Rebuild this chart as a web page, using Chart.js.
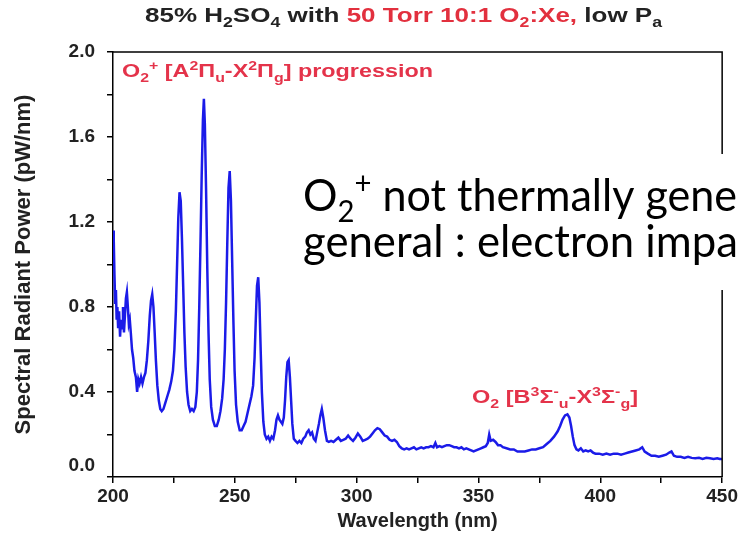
<!DOCTYPE html>
<html>
<head>
<meta charset="utf-8">
<script src="https://cdn.jsdelivr.net/npm/chart.js@4/dist/chart.umd.min.js"></script>
<style>
  html, body { margin: 0; padding: 0; background: #ffffff; }
  #wrap { width: 740px; height: 534px; }
</style>
</head>
<body>
<div id="wrap"><canvas id="c" width="740" height="534"></canvas></div>
<script>
// ---------- data ----------
const wavelength = [
  200.0,200.3,200.6,200.9,201.2,201.5,201.8,202.1,202.5,202.9,203.3,203.7,204.1,204.5,204.9,205.3,205.7,206.1,206.5,206.9,
  207.3,207.8,208.3,208.8,209.4,209.9,210.4,210.9,211.5,212.1,212.7,213.3,213.9,214.5,215.1,215.6,216.1,216.6,217.1,217.6,
  218.2,218.8,219.4,220.0,220.7,221.5,222.3,223.1,223.9,224.6,225.2,225.8,226.3,226.8,227.3,227.8,228.3,228.8,229.3,229.8,
  230.4,231.0,231.7,232.4,233.1,233.8,234.4,234.9,235.4,235.9,236.4,236.9,237.3,237.7,238.2,238.7,239.2,239.7,240.3,241.0,
  241.8,242.6,243.4,244.1,244.8,245.4,245.9,246.4,246.9,247.4,247.9,248.4,248.9,249.4,249.9,250.5,251.2,252.0,252.8,253.6,
  254.4,255.2,256.0,256.8,257.5,258.1,258.6,259.1,259.6,260.1,260.6,261.1,261.7,262.3,263.0,263.7,264.4,265.1,265.8,266.5,
  267.1,267.7,268.3,268.9,269.5,270.1,270.6,271.1,271.6,272.1,272.6,273.1,273.6,274.2,274.9,275.7,276.5,277.3,278.1,278.9,
  279.6,280.3,281.0,281.7,282.4,283.1,283.8,284.5,285.1,285.7,286.3,287.0,287.8,288.6,289.5,290.5,291.5,292.5,293.5,294.5,
  295.5,296.5,297.5,298.5,299.5,300.5,301.5,302.5,303.5,304.5,305.5,306.5,307.5,308.5,309.5,310.5,311.5,312.5,313.5,314.5,
  315.5,316.5,317.5,318.5,319.5,320.5,321.5,322.5,323.5,324.5,325.5,326.5,327.5,328.5,329.5,330.5,331.5,332.3,333.0,334.0,
  335.0,336.0,337.0,338.0,339.0,340.0,341.0,342.0,343.0,344.0,345.0,346.0,347.0,348.0,349.0,350.0,351.0,352.0,353.0,353.8,
  354.4,355.0,356.0,357.0,358.0,359.0,360.0,361.5,363.0,364.5,366.0,367.5,369.0,370.5,372.0,373.5,375.0,376.5,378.0,379.5,
  381.0,382.5,383.5,384.5,385.5,386.5,387.3,388.0,388.7,389.4,390.2,391.0,392.0,393.0,394.0,395.0,396.0,397.0,398.0,399.5,
  401.0,402.5,404.0,405.5,407.0,408.5,410.0,411.5,413.0,414.5,416.0,417.2,418.2,419.5,421.0,422.5,424.0,425.5,427.0,428.3,
  429.2,430.2,431.5,433.0,434.5,436.0,437.5,439.0,440.5,442.0,443.5,445.0,446.5,448.0,449.0,450.0
];
const power = [
  1.16,1.12,0.95,0.82,0.88,0.74,0.80,0.70,0.78,0.66,0.74,0.70,0.80,0.68,0.76,0.84,0.87,0.80,0.72,0.74,
  0.68,0.60,0.56,0.50,0.47,0.40,0.46,0.44,0.47,0.44,0.47,0.49,0.55,0.64,0.76,0.83,0.86,0.80,0.68,0.55,
  0.43,0.36,0.32,0.31,0.32,0.35,0.38,0.41,0.45,0.50,0.60,0.78,1.00,1.22,1.34,1.30,1.12,0.90,0.68,0.52,
  0.40,0.34,0.31,0.32,0.31,0.33,0.40,0.55,0.80,1.10,1.42,1.68,1.78,1.66,1.35,0.98,0.68,0.46,0.33,0.27,
  0.24,0.24,0.27,0.31,0.37,0.46,0.60,0.82,1.10,1.36,1.44,1.30,1.02,0.74,0.50,0.34,0.26,0.22,0.22,0.24,
  0.26,0.30,0.34,0.38,0.43,0.56,0.74,0.90,0.94,0.82,0.60,0.40,0.26,0.20,0.18,0.19,0.17,0.19,0.18,0.22,
  0.27,0.29,0.27,0.26,0.25,0.28,0.36,0.47,0.54,0.55,0.47,0.36,0.25,0.18,0.17,0.16,0.17,0.16,0.18,0.19,
  0.21,0.22,0.20,0.21,0.18,0.17,0.21,0.25,0.29,0.32,0.28,0.22,0.17,0.165,0.17,0.165,0.175,0.185,0.17,0.175,
  0.18,0.195,0.18,0.17,0.185,0.205,0.19,0.17,0.175,0.18,0.19,0.205,0.22,0.23,0.225,0.21,0.195,0.19,0.175,0.17,
  0.175,0.165,0.145,0.135,0.13,0.135,0.13,0.135,0.14,0.13,0.135,0.14,0.135,0.14,0.14,0.145,0.14,0.16,0.14,0.145,
  0.14,0.145,0.15,0.15,0.145,0.14,0.14,0.135,0.14,0.13,0.135,0.13,0.125,0.12,0.125,0.13,0.135,0.14,0.145,0.16,
  0.20,0.17,0.175,0.165,0.15,0.15,0.14,0.135,0.13,0.13,0.12,0.12,0.12,0.125,0.13,0.13,0.135,0.14,0.155,0.17,
  0.19,0.215,0.24,0.27,0.29,0.295,0.28,0.24,0.19,0.15,0.13,0.125,0.135,0.12,0.125,0.12,0.125,0.115,0.11,0.11,
  0.105,0.11,0.105,0.11,0.11,0.105,0.11,0.115,0.12,0.125,0.13,0.14,0.12,0.11,0.10,0.10,0.095,0.10,0.105,0.115,
  0.12,0.10,0.095,0.095,0.09,0.095,0.09,0.088,0.09,0.085,0.09,0.088,0.085,0.088,0.085,0.085
];
const xTicks = [200,225,250,275,300,325,350,375,400,425,450];
const xTickLabels = ['200','','250','','300','','350','','400','','450'];
const yTicks = [0,0.2,0.4,0.6,0.8,1.0,1.2,1.4,1.6,1.8,2.0];
const yTickLabels = ['0.0','','0.4','','0.8','','1.2','','1.6','','2.0'];

// ---------- texts ----------
const INK = '#222';
const TRED = '#e2303e';
const titleSegs = [
  {t:'85% H', c:INK}, {t:'2', c:INK, k:'sub'}, {t:'SO', c:INK}, {t:'4', c:INK, k:'sub'},
  {t:' with ', c:INK},
  {t:'50 Torr 10:1 O', c:TRED}, {t:'2', c:TRED, k:'sub'}, {t:':Xe,', c:TRED},
  {t:' low P', c:INK}, {t:'a', c:INK, k:'sub'}
];
const RED = '#e4334a';
const note1 = [
  {t:'O', c:RED}, {t:'2', c:RED, k:'sub'}, {t:'+', c:RED, k:'sup'}, {t:' [A', c:RED}, {t:'2', c:RED, k:'sup'},
  {t:'\u03A0', c:RED}, {t:'u', c:RED, k:'sub'}, {t:'-X', c:RED}, {t:'2', c:RED, k:'sup'}, {t:'\u03A0', c:RED},
  {t:'g', c:RED, k:'sub'}, {t:'] progression', c:RED}
];
const note2 = [
  {t:'O', c:RED}, {t:'2', c:RED, k:'sub'}, {t:' [B', c:RED}, {t:'3', c:RED, k:'sup'}, {t:'\u03A3', c:RED},
  {t:'-', c:RED, k:'sup'}, {t:'u', c:RED, k:'sub'}, {t:'-X', c:RED}, {t:'3', c:RED, k:'sup'}, {t:'\u03A3', c:RED},
  {t:'-', c:RED, k:'sup'}, {t:'g', c:RED, k:'sub'}, {t:']', c:RED}
];
const overlayLine1 = [
  {t:'O', c:'#000'}, {t:'2', c:'#000', k:'sub'}, {t:'+', c:'#000', k:'sup'}, {t:' not thermally gene', c:'#000'}
];
const overlayLine2 = [{t:'general : electron impa', c:'#000'}];

const SANS = '"Liberation Sans", Arial, Helvetica, sans-serif';
const BIG = '"Lato", "Open Sans", sans-serif';

function richWidth(ctx, segs, size, weight, family) {
  let w = 0;
  segs.forEach(s => {
    const fs = s.k ? size * 0.68 : size;
    ctx.font = `${weight} ${fs}px ${family}`;
    w += ctx.measureText(s.t).width;
  });
  return w;
}
// draws rich text between x0 and x1 (horizontally fitted), baseline y
function drawRichFit(ctx, segs, x0, x1, y, size, weight, family) {
  const total = richWidth(ctx, segs, size, weight, family);
  const sx = (x1 - x0) / total;
  ctx.save();
  ctx.translate(x0, y);
  ctx.scale(sx, 1);
  ctx.textBaseline = 'alphabetic';
  ctx.textAlign = 'left';
  let cx = 0;
  segs.forEach(s => {
    const fs = s.k ? size * 0.68 : size;
    ctx.font = `${weight} ${fs}px ${family}`;
    let dy = 0;
    if (s.k === 'sub') dy = size * 0.26;
    if (s.k === 'sup') dy = -size * 0.38;
    ctx.fillStyle = s.c;
    ctx.fillText(s.t, cx, dy);
    cx += ctx.measureText(s.t).width;
  });
  ctx.restore();
}

const decor = {
  id: 'decor',
  afterDatasetsDraw(chart) {
    const {ctx, chartArea: a} = chart;
    ctx.save();
    ctx.strokeStyle = '#000';
    ctx.lineWidth = 1.5;
    ctx.beginPath();
    ctx.moveTo(a.left, a.top);
    ctx.lineTo(a.right, a.top);
    ctx.lineTo(a.right, a.bottom);
    ctx.stroke();
    ctx.restore();
  },
  afterDraw(chart) {
    const ctx = chart.ctx;
    // title
    drawRichFit(ctx, titleSegs, 145, 662, 22, 21, 'bold', SANS);
    // annotations
    drawRichFit(ctx, note1, 122, 433, 77, 19, 'bold', SANS);
    drawRichFit(ctx, note2, 472, 638, 403, 19, 'bold', SANS);
    // white text box from the slide
    ctx.save();
    ctx.fillStyle = '#ffffff';
    ctx.fillRect(294, 154, 446, 136);
    ctx.restore();
    drawRichFit(ctx, overlayLine1, 303, 737, 211, 44, 'normal', BIG);
    drawRichFit(ctx, overlayLine2, 303, 738, 257, 44, 'normal', BIG);
  }
};

const points = wavelength.map((w, i) => ({x: w, y: power[i]}));

new Chart(document.getElementById('c'), {
  type: 'line',
  data: {
    datasets: [{
      data: points,
      borderColor: '#1b1be8',
      borderWidth: 2.5,
      pointRadius: 0,
      tension: 0,
      fill: false
    }]
  },
  options: {
    responsive: false,
    animation: false,
    events: [],
    layout: {padding: {top: 52, right: 16, bottom: 0, left: 0}},
    plugins: {legend: {display: false}, tooltip: {enabled: false}, title: {display: false}},
    scales: {
      x: {
        type: 'linear', min: 200, max: 450,
        afterFit(s) { s.height = 57; },
        afterBuildTicks(s) { s.ticks = xTicks.map(v => ({value: v})); },
        ticks: {
          autoSkip: false, maxRotation: 0, padding: 2, color: INK,
          font: {family: SANS, size: 19, weight: 'bold'},
          callback: (v) => { const i = xTicks.indexOf(v); return i >= 0 ? xTickLabels[i] : ''; }
        },
        grid: {display: true, drawOnChartArea: false, drawTicks: true, tickLength: 6, color: '#000', lineWidth: 1.5},
        border: {display: true, color: '#000', width: 1.5},
        title: {display: true, text: 'Wavelength (nm)', color: INK,
                font: {family: SANS, size: 20, weight: 'bold'}, padding: {top: 0, bottom: 1}}
      },
      y: {
        type: 'linear', min: 0, max: 2.0,
        afterFit(s) { s.width = 113; },
        afterBuildTicks(s) { s.ticks = yTicks.map(v => ({value: v})); },
        ticks: {
          autoSkip: false, padding: 12, color: INK,
          font: {family: SANS, size: 19, weight: 'bold'},
          callback: (v) => {
            const i = yTicks.findIndex(t => Math.abs(t - v) < 1e-6);
            if (i < 0) return '';
            // the bottom label sits a little above its tick in the reference
            return i === 0 ? [yTickLabels[i], ''] : yTickLabels[i];
          }
        },
        grid: {display: true, drawOnChartArea: false, drawTicks: true, tickLength: 6, color: '#000', lineWidth: 1.5},
        border: {display: true, color: '#000', width: 1.5},
        title: {display: true, text: 'Spectral Radiant Power (pW/nm)', color: INK,
                font: {family: SANS, size: 22, weight: 'bold'}, padding: {top: 11, bottom: 0}}
      }
    }
  },
  plugins: [decor]
});
</script>
</body>
</html>
